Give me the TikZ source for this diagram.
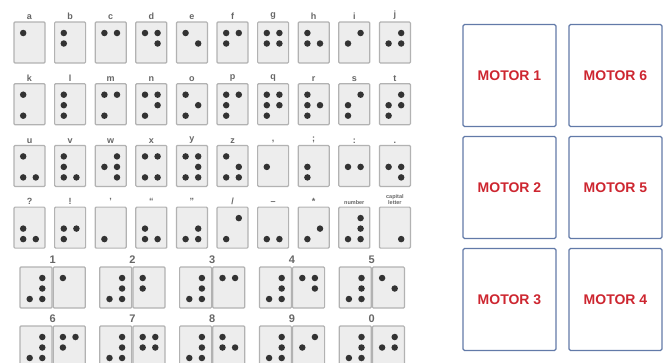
\documentclass[tikz,border=0pt]{standalone}
\usepackage{fontspec}
\setmainfont{Liberation Sans}
\definecolor{motorblue}{RGB}{98,122,168}
\definecolor{motorred}{RGB}{205,38,48}
% dots of a braille cell: 1-3 left column, 4-6 right column
\newcommand{\bdots}[2]{\foreach \dotno in {#2} {
    \pgfmathsetmacro{\dx}{\dotno>3 ? 6.3 : -6.3}
    \pgfmathsetmacro{\dy}{-9.5+10.5*mod(\dotno-1,3)}
    \node[bdot] (#1-\dotno) at ([shift={(\dx,\dy)}]#1.center) {};}}
% one letter cell: [label options] column, row, label, dots
\newcommand{\bcell}[5][]{%
  \node[cell] (c#3#2) at (29.5+40.6*#2, 42.5+61.7*#3) {};
  \node[lbl, #1] (l#3#2) at ([yshift=1pt]c#3#2.north) {#4};
  \bdots{c#3#2}{#5}}
% one number: number sign + digit cell
\newcommand{\ncell}[4]{%
  \node[cell, minimum width=32pt] (s#2#1) at (36+79.8*#1, 287.5+59*#2) {};
  \node[cell, minimum width=32pt, anchor=west] (n#2#1) at (s#2#1.east) {};
  \node[numlbl] (k#2#1) at ([yshift=2pt]s#2#1.north east) {#3};
  \bdots{s#2#1}{3,4,5,6}
  \bdots{n#2#1}{#4}}

\begin{document}
\begin{tikzpicture}[x=1pt, y=-1pt,
  cell/.style={draw=gray!60, fill=gray!14, line width=1.2pt, rounded corners=1pt, minimum width=31pt, minimum height=41pt, inner sep=0pt},
  bdot/.style={circle, fill=black!80, inner sep=0pt, minimum size=6.5pt},
  lbl/.style={font=\bfseries\fontsize{9}{10}\selectfont, text=gray!80!black, inner sep=0.5pt, anchor=south, align=center},
  tinylbl/.style={font=\bfseries\fontsize{5.5}{6}\selectfont},
  numlbl/.style={lbl, font=\bfseries\fontsize{11}{12}\selectfont},
  motor/.style={draw=motorblue, line width=1.3pt, rounded corners=1.5pt, minimum width=93pt, minimum height=102pt, text=motorred, font=\bfseries\fontsize{14}{16}\selectfont}]

  \useasboundingbox (0,0) rectangle (665,362);
  \clip (0,0) rectangle (665,362);

  % a - j
  \bcell{0}{0}{a}{1}       \bcell{1}{0}{b}{1,2}     \bcell{2}{0}{c}{1,4}
  \bcell{3}{0}{d}{1,4,5}   \bcell{4}{0}{e}{1,5}     \bcell{5}{0}{f}{1,2,4}
  \bcell{6}{0}{g}{1,2,4,5} \bcell{7}{0}{h}{1,2,5}   \bcell{8}{0}{i}{2,4}
  \bcell{9}{0}{j}{2,4,5}
  % k - t
  \bcell{0}{1}{k}{1,3}       \bcell{1}{1}{l}{1,2,3}     \bcell{2}{1}{m}{1,3,4}
  \bcell{3}{1}{n}{1,3,4,5}   \bcell{4}{1}{o}{1,3,5}     \bcell{5}{1}{p}{1,2,3,4}
  \bcell{6}{1}{q}{1,2,3,4,5} \bcell{7}{1}{r}{1,2,3,5}   \bcell{8}{1}{s}{2,3,4}
  \bcell{9}{1}{t}{2,3,4,5}
  % u - z and punctuation
  \bcell{0}{2}{u}{1,3,6}     \bcell{1}{2}{v}{1,2,3,6}   \bcell{2}{2}{w}{2,4,5,6}
  \bcell{3}{2}{x}{1,3,4,6}   \bcell{4}{2}{y}{1,3,4,5,6} \bcell{5}{2}{z}{1,3,5,6}
  \bcell{6}{2}{,}{2}         \bcell{7}{2}{;}{2,3}       \bcell{8}{2}{:}{2,5}
  \bcell{9}{2}{.}{2,5,6}
  % signs
  \bcell{0}{3}{?}{2,3,6}     \bcell{1}{3}{!}{2,3,5}     \bcell{2}{3}{’}{3}
  \bcell{3}{3}{“}{2,3,6}     \bcell{4}{3}{”}{3,5,6}     \bcell{5}{3}{/}{3,4}
  \bcell{6}{3}{–}{3,6}       \bcell{7}{3}{*}{3,5}
  \bcell[tinylbl]{8}{3}{number}{3,4,5,6}
  \bcell[tinylbl]{9}{3}{capital\\letter}{6}

  % numbers
  \ncell{0}{0}{1}{1}     \ncell{1}{0}{2}{1,2}   \ncell{2}{0}{3}{1,4}
  \ncell{3}{0}{4}{1,4,5} \ncell{4}{0}{5}{1,5}
  \ncell{0}{1}{6}{1,2,4} \ncell{1}{1}{7}{1,2,4,5} \ncell{2}{1}{8}{1,2,5}
  \ncell{3}{1}{9}{2,4}   \ncell{4}{1}{0}{2,4,5}

  % motors
  \node[motor] (m1) at (509.5,75.5) {MOTOR 1};
  \node[motor] (m2) at (509.5,187.5) {MOTOR 2};
  \node[motor] (m3) at (509.5,299.5) {MOTOR 3};
  \node[motor] (m6) at (615.5,75.5) {MOTOR 6};
  \node[motor] (m5) at (615.5,187.5) {MOTOR 5};
  \node[motor] (m4) at (615.5,299.5) {MOTOR 4};
\end{tikzpicture}
\end{document}
